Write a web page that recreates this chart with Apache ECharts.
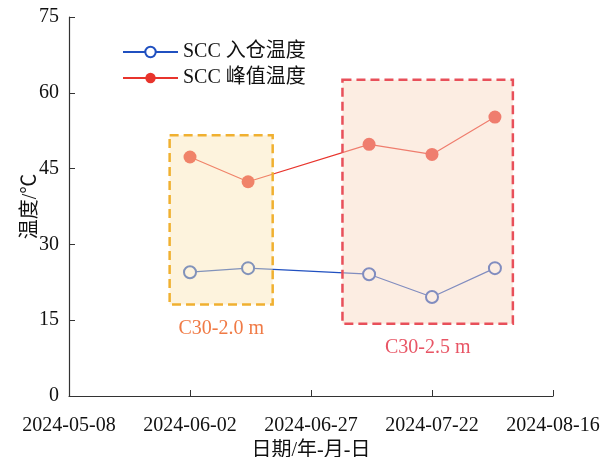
<!DOCTYPE html>
<html>
<head>
<meta charset="utf-8">
<script src="https://cdn.jsdelivr.net/npm/echarts@6/dist/echarts.min.js"></script>
<style>html,body{margin:0;padding:0;background:#fff;}#chart{width:606px;height:457px;}</style>
</head>
<body>
<div id="chart"></div>
<script>
// ---- data ----
const baseDate = '2024-05-08';
const dates = ['2024-06-02', '2024-06-14', '2024-07-09', '2024-07-22', '2024-08-04'];
const inletTemp = [24.5, 25.3, 24.1, 19.6, 25.3];   // SCC 入仓温度
const peakTemp = [47.3, 42.4, 49.8, 47.8, 55.2];    // SCC 峰值温度
const seriesNames = ['SCC 入仓温度', 'SCC 峰值温度'];
const boxNames = ['C30-2.0 m', 'C30-2.5 m'];
const boxStart = ['2024-05-28T19:00:00Z', '2024-07-03T12:00:00Z'];
const boxEnd = ['2024-06-19T02:00:00Z', '2024-08-07T17:00:00Z'];
const boxLow = [18.1, 14.3];
const boxHigh = [51.6, 62.6];
const xTickStepDays = 25;
const xSpanDays = 100;
const yTicks = [0, 15, 30, 45, 60, 75];

// ---- helpers ----
const DAY = 86400000;
const base = Date.parse(baseDate);
const toDay = d => (Date.parse(d) - base) / DAY;
const fmtDay = v => new Date(base + v * DAY).toISOString().slice(0, 10);

const FONT = "'Liberation Serif', 'Times New Roman', 'Noto Sans CJK SC', serif";
const boxStyles = [
  { fill: 'rgba(250,228,180,0.45)', border: '#F0B030', label: '#F07A45' },
  { fill: 'rgba(248,215,190,0.45)', border: '#E8505A', label: '#E85565' }
];

const chart = echarts.init(document.getElementById('chart'), null, { renderer: 'canvas' });
chart.setOption({
  animation: false,
  backgroundColor: '#fff',
  textStyle: { fontFamily: FONT },
  grid: { left: 69, right: 53, top: 17, bottom: 61, containLabel: false, outerBoundsMode: 'none' },
  legend: {
    orient: 'vertical',
    left: 117, top: 37,
    itemWidth: 55, itemHeight: 13, itemGap: 6,
    data: seriesNames,
    textStyle: { fontSize: 20, color: '#111', fontFamily: FONT }
  },
  xAxis: {
    type: 'value',
    min: 0, max: xSpanDays, interval: xTickStepDays,
    name: '日期/年-月-日', nameLocation: 'middle', nameGap: 45, nameMoveOverlap: false,
    nameTextStyle: { fontSize: 20, color: '#111', fontFamily: FONT },
    axisLine: { lineStyle: { color: '#333', width: 1.2 } },
    axisTick: { inside: true, length: 6, lineStyle: { color: '#333' } },
    splitLine: { show: false },
    axisLabel: { formatter: fmtDay, fontSize: 20, color: '#111', margin: 20, fontFamily: FONT, showMinLabel: true, showMaxLabel: true }
  },
  yAxis: {
    type: 'value',
    min: yTicks[0], max: yTicks[yTicks.length - 1], interval: yTicks[1] - yTicks[0],
    name: '温度/℃', nameLocation: 'middle', nameGap: 28, nameRotate: 90, nameMoveOverlap: false,
    nameTextStyle: { fontSize: 20, color: '#111', fontFamily: FONT },
    axisLine: { show: true, lineStyle: { color: '#333', width: 1.2 } },
    axisTick: { show: true, inside: true, length: 6, lineStyle: { color: '#333' } },
    splitLine: { show: false },
    axisLabel: { fontSize: 20, color: '#111', margin: 10, fontFamily: FONT }
  },
  series: [
    {
      name: seriesNames[0], type: 'line', z: 2,
      data: dates.map((d, i) => [toDay(d), inletTemp[i]]),
      symbol: 'emptyCircle', symbolSize: 12,
      lineStyle: { color: '#2050C0', width: 1.2 },
      itemStyle: { color: '#2050C0', borderColor: '#2050C0', borderWidth: 1.5 }
    },
    {
      name: seriesNames[1], type: 'line', z: 2,
      data: dates.map((d, i) => [toDay(d), peakTemp[i]]),
      symbol: 'circle', symbolSize: 13,
      lineStyle: { color: '#E8342C', width: 1.2 },
      itemStyle: { color: '#E8342C' }
    },
    {
      name: 'boxes', type: 'line', z: 10, data: [], silent: true,
      markArea: {
        silent: true, z: 10,
        data: boxNames.map((n, i) => [
          {
            name: n,
            xAxis: toDay(boxStart[i]), yAxis: boxHigh[i],
            itemStyle: { color: boxStyles[i].fill, borderColor: boxStyles[i].border, borderWidth: 2.5, borderType: [9, 5] },
            label: { show: true, position: 'bottom', distance: 13, color: boxStyles[i].label, fontSize: 20, fontFamily: FONT }
          },
          { xAxis: toDay(boxEnd[i]), yAxis: boxLow[i] }
        ])
      }
    }
  ]
});
</script>
</body>
</html>
